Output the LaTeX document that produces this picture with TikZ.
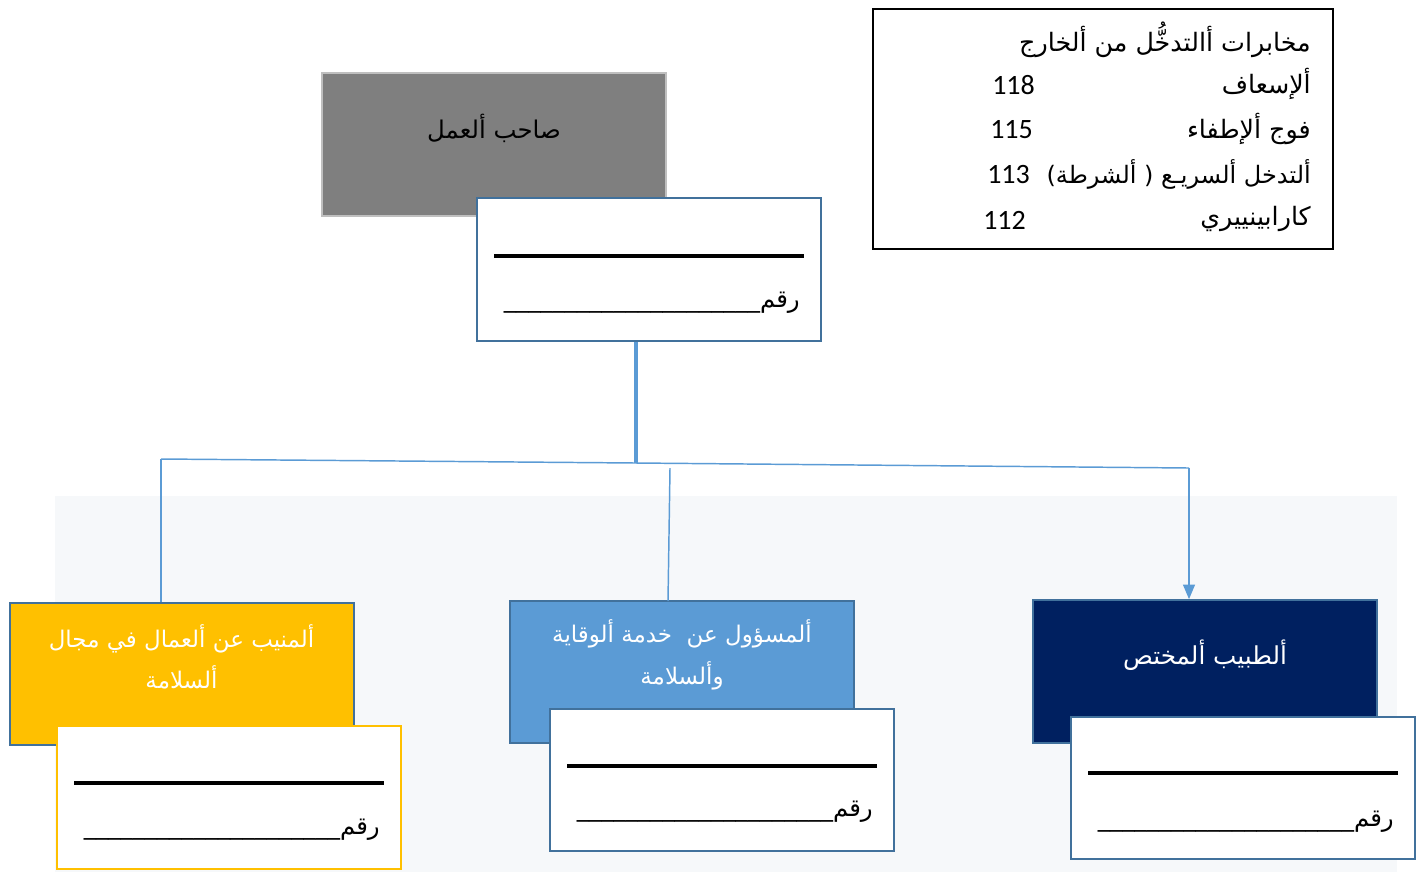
\documentclass[tikz,border=0pt]{standalone}
\usepackage{fontspec}
\usetikzlibrary{arrows.meta}
\TeXXeTstate=1
\newfontfamily\arabicfont[Script=Arabic]{DejaVu Sans}
\newfontfamily\numfont{Carlito}
\definecolor{bgpale}{HTML}{F6F8FA}
\definecolor{steel}{HTML}{41719C}
\definecolor{lblue}{HTML}{5B9BD5}
\definecolor{gold}{HTML}{FFC000}
\definecolor{navy}{HTML}{002060}
\definecolor{grayfill}{HTML}{7F7F7F}
\definecolor{grayedge}{HTML}{BFBFBF}
\tikzset{
  box/.style={rectangle, minimum width=258pt, minimum height=107pt, inner sep=0pt, line width=1.5pt},
  ar/.style={font=\arabicfont\fontsize{18.3}{22}\selectfont, inner sep=0pt},
  arw/.style={ar, text=white, align=center, font=\arabicfont\fontsize{18.5}{31}\selectfont},
  arws/.style={ar, text=white, align=center, font=\arabicfont\fontsize{17.2}{31}\selectfont},
  num/.style={font=\numfont\fontsize{21}{25}\selectfont, inner sep=0pt},
  tr/.style={font=\arabicfont\fontsize{19}{22}\selectfont, inner sep=0pt},
  conn/.style={draw=lblue, line width=1.1pt},
  rule/.style={draw=black, line width=3pt}
}
\begin{document}
\begin{tikzpicture}[x=0.75pt, y=-0.75pt]
\useasboundingbox (0,0) rectangle (1426,872);
\fill[bgpale] (55,496) rectangle (1397,872);

% connector coordinates
\coordinate (j) at (636,463);
\coordinate (hl) at (161,459);
\coordinate (hm) at (670,468);
\coordinate (hr) at (1189,468);

% top-right info box
\node[draw=black, line width=1.5pt, minimum width=345pt, minimum height=180pt, inner sep=0pt] (info) at (1103,129) {};
\node[tr, anchor=east] (t0) at (1311,40) {\beginR مخابرات أالتدخُّل من ألخارج\endR};
\node[tr, anchor=east] (t1) at (1311,84) {\beginR ألإسعاف\endR};
\node[tr, anchor=east] (t2) at (1311,129) {\beginR فوج ألإطفاء\endR};
\node[tr, anchor=east, font=\arabicfont\fontsize{18}{22}\selectfont] (t3) at (1311,174) {\beginR ألتدخل ألسريـع ( ألشرطة)\endR};
\node[tr, anchor=east] (t4) at (1311,219) {\beginR كارابينييري\endR};
\node[num, anchor=west] (n1) at (992,85) {118};
\node[num, anchor=west] (n2) at (990,130) {115};
\node[num, anchor=west] (n3) at (987,175) {113};
\node[num, anchor=west] (n4) at (983,220) {112};

% top boxes
\node[box, fill=grayfill, draw=grayedge] (boss) at (494,144.5) {};
\node[ar] (bosst) at (494,128) {\beginR صاحب ألعمل\endR};
\node[box, fill=white, draw=steel] (wtop) at (649,269.5) {};
\draw[rule] (494,256) -- (804,256);
\node[ar, anchor=east] (wtopt) at (800,303) {\beginR رقم\_\_\_\_\_\_\_\_\_\_\_\_\_\_\_\_\_\_\_\_\_\endR};

% connectors
\draw[lblue, line width=2.3pt] (wtop.south -| j) -- (j);
\draw[conn] (hl) -- (j) -- (hr);

% bottom boxes
\node[box, fill=gold, draw=steel] (yel) at (181.5,674) {};
\node[box, fill=lblue, draw=steel] (blu) at (682,672) {};
\node[box, fill=navy, draw=steel] (nav) at (1205,671.5) {};

\draw[conn] (hl) -- (hl |- yel.north);
\draw[conn] (hm) -- (668,601);
\draw[conn, -{Triangle[length=11pt,width=9pt]}] (hr) -- (hr |- nav.north);

\node[arws] (yelt) at (181.5,657) {\beginR ألمنيب عن ألعمال في مجال\endR\\\beginR ألسلامة\endR};
\node[arws] (blut) at (682,655) {\beginR ألمسؤول عن\ \ خدمة ألوقاية\endR\\\beginR وألسلامة\endR};
\node[arw] (navt) at (1205,655) {\beginR ألطبيب ألمختص\endR};

\node[box, fill=white, draw=gold] (wyel) at (228.5,797.5) {};
\draw[rule] (74,783) -- (384,783);
\node[ar, anchor=east] (wyelt) at (380,830) {\beginR رقم\_\_\_\_\_\_\_\_\_\_\_\_\_\_\_\_\_\_\_\_\_\endR};

\node[box, fill=white, draw=steel] (wblu) at (721.5,780) {};
\draw[rule] (567,766) -- (877,766);
\node[ar, anchor=east] (wblut) at (873,812) {\beginR رقم\_\_\_\_\_\_\_\_\_\_\_\_\_\_\_\_\_\_\_\_\_\endR};

\node[box, fill=white, draw=steel] (wnav) at (1242.5,788) {};
\draw[rule] (1088,773) -- (1398,773);
\node[ar, anchor=east] (wnavt) at (1394,822) {\beginR رقم\_\_\_\_\_\_\_\_\_\_\_\_\_\_\_\_\_\_\_\_\_\endR};
\end{tikzpicture}
\end{document}
